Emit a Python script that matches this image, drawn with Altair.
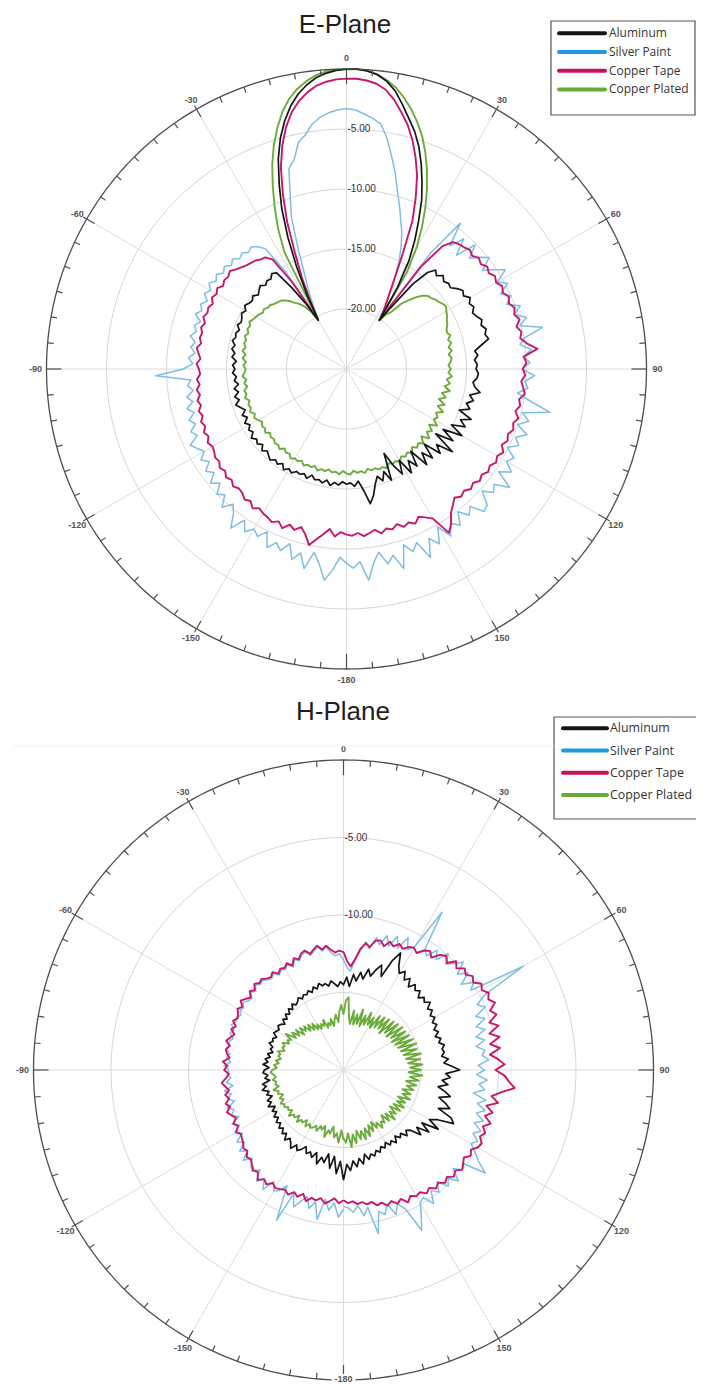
import pandas as pd
import altair as alt

# ---------------- data (2 degree steps, -180 .. 180) ----------------
ANGLES = list(range(-180, 181, 2))
SERIES = ["Aluminum", "Silver Paint", "Copper Tape", "Copper Plated"]
LINE_COLORS = ["#151515", "#7dbde6", "#c8176a", "#6cab3c"]
LEGEND_COLORS = ["#151515", "#1a9be0", "#c8105a", "#69aa38"]
DRAW_ORDER = ["Silver Paint", "Copper Tape", "Copper Plated", "Aluminum"]
STROKES = {"Aluminum": 1.7, "Silver Paint": 1.5, "Copper Tape": 1.9, "Copper Plated": 1.9}

E_ALUMINUM = [
    -15.4, -15.6, -15.3, -15.5, -15.2, -15.6, -15.3, -15.5, -15.4, -15.7, -15.3, -15.6, -15.4, -15.5, -15.2,
    -15.4, -15.1, -15.5, -15.2, -15.4, -15.1, -15.3, -15.5, -15.2, -15.6, -15.3, -15.5, -15.2, -15.6, -15.4,
    -15.7, -15.4, -15.8, -15.5, -15.9, -15.6, -15.3, -15.7, -15.4, -15.8, -15.5, -15.9, -15.6, -15.8, -15.5,
    -15.7, -15.5, -15.8, -15.4, -15.6, -15.3, -15.5, -15.2, -15.4, -15.3, -15.5, -15.2, -15.4, -15.3, -15.1,
    -15.3, -15.0, -15.2, -15.3, -15.1, -15.4, -15.2, -15.0, -15.3, -15.1, -15.2, -14.9, -15.1, -16.8, -18.5,
    -20.3, -18.0, -15.5, -13.0, -10.6, -8.6, -6.6, -5.0, -3.7, -2.6, -1.75, -1.1, -0.6, -0.3, -0.1,
    -0.02, 0.0, -0.1, -0.35, -0.8, -1.5, -2.5, -3.5, -4.4, -5.5, -6.8, -8.2, -9.6, -11.3, -12.9,
    -14.6, -17.0, -20.1, -18.5, -16.0, -14.5, -13.9, -14.2, -13.8, -14.1, -13.9, -14.0, -13.6, -13.3, -13.5,
    -13.1, -13.4, -13.2, -13.5, -13.3, -13.0, -13.2, -12.9, -13.1, -12.9, -13.6, -14.2, -14.0, -14.3, -14.1,
    -14.2, -14.0, -14.1, -14.4, -14.2, -13.7, -14.5, -14.1, -14.6, -14.2, -15.0, -13.8, -14.6, -14.0, -15.1,
    -13.9, -15.5, -14.3, -15.8, -13.8, -15.2, -14.5, -16.0, -14.7, -15.6, -14.6, -16.3, -15.0, -15.8, -14.8,
    -16.2, -15.1, -16.0, -17.3, -15.0, -15.9, -15.2, -15.7, -15.1, -14.2, -13.6, -14.8, -15.6, -15.2, -15.5,
    -15.4,
]
E_SILVER = [
    -8.8, -9.3, -8.2, -7.3, -8.6, -9.5, -8.0, -9.2, -8.5, -9.7, -8.9, -9.4, -8.7, -9.9, -9.2,
    -9.6, -9.0, -9.8, -8.6, -9.7, -10.3, -9.5, -10.4, -10.0, -10.8, -10.2, -11.0, -10.5, -11.2, -10.7,
    -11.3, -10.9, -10.5, -11.4, -11.0, -11.6, -11.2, -11.8, -11.3, -11.9, -11.5, -12.1, -11.7, -12.0, -9.1,
    -11.4, -12.2, -11.8, -12.3, -11.9, -12.2, -11.7, -12.1, -11.8, -12.2, -11.6, -12.0, -11.7, -12.1, -11.6,
    -11.9, -11.5, -11.9, -11.6, -12.0, -11.7, -12.1, -11.8, -12.2, -12.0, -12.3, -12.1, -12.4, -12.9, -15.5,
    -20.3, -19.2, -17.8, -16.5, -14.3, -11.6, -9.8, -7.6, -7.0, -5.7, -5.2, -4.4, -3.9, -3.6, -3.4,
    -3.3, -3.4, -3.7, -4.0, -4.4, -5.5, -6.9, -8.2, -9.6, -10.7, -11.8, -12.7, -13.8, -15.0, -16.5,
    -17.8, -19.0, -20.1, -13.0, -9.6, -11.6, -10.4, -11.8, -10.1, -11.2, -10.5, -9.9, -11.0, -10.2, -9.4,
    -10.5, -9.8, -10.7, -10.0, -10.6, -9.6, -10.3, -9.4, -10.1, -8.3, -9.9, -10.4, -9.5, -10.2, -9.7,
    -10.4, -9.3, -10.1, -9.8, -10.6, -9.4, -7.7, -9.9, -9.2, -10.0, -9.0, -9.8, -9.3, -10.1, -9.2,
    -9.6, -8.8, -9.7, -8.2, -9.4, -9.0, -9.8, -8.7, -8.5, -9.6, -9.1, -9.9, -8.9, -9.5, -8.6,
    -9.8, -8.5, -9.3, -7.8, -9.4, -8.8, -9.6, -7.7, -9.0, -8.4, -9.5, -8.7, -7.3, -8.9, -8.4,
    -8.8,
]
E_TAPE = [
    -11.2, -11.4, -11.0, -11.6, -11.1, -10.6, -10.0, -10.8, -11.3, -10.9, -11.2, -10.7, -11.1, -10.8, -11.0,
    -11.1, -11.3, -11.0, -11.4, -11.2, -11.5, -11.6, -11.4, -11.7, -11.5, -11.8, -11.6, -11.9, -11.8, -12.0,
    -12.1, -11.9, -12.2, -12.0, -12.3, -12.1, -12.4, -12.2, -12.5, -12.3, -12.6, -12.4, -12.7, -12.5, -12.8,
    -12.7, -12.5, -12.8, -12.6, -12.4, -12.7, -12.5, -12.6, -12.4, -12.6, -12.3, -12.5, -12.4, -12.6, -12.3,
    -12.5, -12.3, -12.6, -12.4, -12.5, -12.3, -12.6, -12.8, -13.0, -13.1, -13.2, -13.4, -13.5, -14.0, -16.5,
    -20.3, -18.5, -16.5, -14.5, -11.8, -9.5, -7.3, -5.6, -4.2, -3.1, -2.3, -1.7, -1.25, -1.0, -0.85,
    -0.8, -0.8, -0.9, -1.1, -1.5, -2.2, -3.1, -4.0, -5.1, -6.4, -7.8, -9.6, -11.5, -14.3, -16.5,
    -18.0, -19.0, -20.1, -14.5, -12.0, -11.2, -11.0, -10.9, -10.7, -10.9, -10.6, -10.8, -10.5, -10.7, -10.4,
    -10.6, -10.3, -10.5, -10.2, -10.4, -10.1, -10.3, -10.0, -10.4, -10.1, -10.3, -9.8, -9.0, -10.2, -10.0,
    -10.3, -10.1, -10.4, -10.2, -10.0, -10.4, -10.2, -10.5, -10.1, -10.4, -10.2, -10.5, -10.3, -10.6, -10.2,
    -10.5, -10.3, -10.6, -10.4, -10.7, -10.5, -10.8, -10.6, -10.9, -10.7, -11.0, -10.6, -10.2, -9.4, -8.9,
    -10.6, -11.0, -11.3, -10.9, -11.2, -11.0, -11.4, -11.1, -11.3, -11.0, -11.4, -11.2, -11.0, -11.3, -11.1,
    -11.2,
]
E_PLATED = [
    -16.3, -16.5, -16.2, -16.4, -16.3, -16.5, -16.3, -16.4, -16.2, -16.5, -16.3, -16.4, -16.2, -16.5, -16.3,
    -16.4, -16.2, -16.5, -16.4, -16.6, -16.3, -16.5, -16.4, -16.6, -16.5, -16.7, -16.4, -16.6, -16.5, -16.7,
    -16.5, -16.3, -16.5, -16.2, -16.4, -16.3, -16.5, -16.2, -16.4, -16.3, -16.6, -16.4, -16.6, -16.3, -16.5,
    -16.6, -16.4, -16.6, -16.3, -16.5, -16.2, -16.4, -16.2, -16.3, -16.1, -16.3, -16.1, -16.2, -16.0, -16.2,
    -16.3, -16.4, -16.6, -16.5, -16.7, -16.7, -16.9, -17.0, -17.1, -17.3, -17.6, -18.0, -18.3, -18.7, -19.3,
    -20.3, -14.0, -12.0, -10.3, -8.6, -6.9, -5.4, -4.1, -2.9, -2.0, -1.3, -0.8, -0.4, -0.15, -0.05,
    0.0, 0.0, -0.1, -0.3, -0.7, -1.2, -1.9, -2.7, -3.6, -4.6, -5.8, -7.1, -8.5, -10.0, -11.6,
    -13.3, -15.5, -20.1, -19.4, -19.0, -17.9, -17.3, -16.7, -16.2, -15.9, -15.8, -15.6, -15.5, -15.3, -15.2,
    -15.4, -15.5, -15.7, -15.8, -16.0, -16.1, -15.9, -16.2, -16.0, -16.3, -16.1, -16.4, -16.2, -16.3, -16.5,
    -16.3, -16.5, -16.2, -16.6, -16.3, -16.7, -16.2, -16.8, -16.4, -16.9, -16.3, -16.8, -16.2, -16.7, -16.4,
    -16.6, -16.1, -16.7, -16.2, -16.5, -16.0, -16.6, -16.1, -16.4, -16.2, -16.5, -16.1, -16.4, -16.2, -16.4,
    -16.1, -16.3, -16.2, -16.4, -16.1, -16.3, -16.2, -16.4, -16.3, -16.5, -16.2, -16.4, -16.3, -16.5, -16.2,
    -16.3,
]

H_ALUMINUM = [
    -12.9, -14.1, -13.3, -14.4, -13.6, -14.5, -13.9, -14.2, -13.7, -14.4, -14.0, -14.3, -14.1, -14.5, -14.2,
    -14.0, -14.3, -13.9, -14.2, -14.4, -14.1, -14.5, -14.3, -14.6, -14.4, -14.7, -14.5, -14.8, -14.6, -14.9,
    -14.7, -15.0, -14.6, -14.9, -14.7, -15.1, -14.8, -15.0, -14.6, -14.9, -14.7, -15.2, -14.9, -15.1, -14.8,
    -14.9, -15.2, -14.8, -15.1, -14.9, -15.2, -15.0, -15.3, -15.1, -15.2, -14.9, -15.1, -15.0, -15.2, -14.9,
    -15.0, -15.1, -14.9, -15.0, -15.2, -14.9, -15.1, -14.8, -15.0, -14.7, -14.9, -14.6, -14.8, -14.7, -14.5,
    -14.7, -14.5, -14.6, -14.4, -14.6, -14.3, -14.5, -14.2, -14.4, -14.3, -14.5, -14.2, -14.4, -14.6, -14.3,
    -14.5, -14.0, -14.6, -13.8, -14.2, -13.6, -14.0, -13.3, -13.7, -13.2, -12.8, -13.5, -12.3, -11.6, -12.4,
    -12.8, -12.5, -13.0, -12.7, -13.2, -12.8, -13.1, -12.9, -13.3, -13.0, -13.2, -12.9, -13.3, -13.1, -13.4,
    -13.2, -13.5, -13.3, -13.6, -13.4, -13.7, -13.4, -13.6, -13.3, -13.5, -13.4, -13.6, -13.2, -13.5, -13.0,
    -12.5, -13.4, -13.1, -13.6, -13.2, -13.8, -13.3, -12.9, -13.6, -13.1, -12.7, -13.4, -12.4, -12.1, -13.2,
    -13.6, -12.8, -13.9, -13.2, -14.0, -13.5, -14.2, -14.4, -14.1, -14.5, -14.3, -14.6, -14.2, -14.5, -14.3,
    -14.6, -14.3, -14.5, -14.2, -14.4, -14.1, -14.3, -14.0, -14.4, -13.8, -14.2, -13.7, -14.1, -13.5, -13.9,
    -12.9,
]
H_SILVER = [
    -11.0, -10.5, -11.4, -10.9, -11.6, -10.2, -11.3, -10.8, -11.5, -11.1, -10.6, -11.4, -9.4, -11.7, -11.2,
    -11.0, -11.5, -10.7, -11.3, -10.9, -11.6, -11.2, -11.4, -11.8, -11.3, -11.9, -11.5, -12.1, -11.7, -12.3,
    -11.9, -12.4, -12.0, -12.6, -12.2, -12.5, -12.1, -12.7, -12.3, -12.6, -12.2, -12.8, -12.4, -12.7, -12.5,
    -12.6, -12.3, -12.7, -12.4, -12.6, -12.3, -12.5, -12.4, -12.6, -12.3, -12.5, -12.2, -12.4, -12.3, -12.5,
    -12.3, -12.4, -12.2, -12.4, -12.5, -12.2, -12.4, -12.1, -12.3, -12.2, -12.4, -12.5, -12.3, -12.6, -12.4,
    -12.5, -12.3, -12.6, -12.2, -12.4, -12.1, -12.0, -12.3, -12.1, -11.9, -12.2, -12.0, -12.4, -12.6, -12.5,
    -12.9, -13.4, -13.6, -12.9, -12.2, -11.6, -12.0, -11.2, -11.6, -10.9, -11.5, -10.7, -11.4, -10.5, -11.2,
    -10.8, -8.0, -10.6, -10.9, -10.2, -10.7, -9.9, -10.5, -10.1, -9.6, -10.4, -9.8, -10.6, -9.9, -10.3,
    -6.6, -9.7, -10.4, -10.0, -10.8, -10.3, -11.0, -10.5, -11.2, -10.7, -11.3, -10.8, -11.0, -10.6, -11.3,
    -10.9, -11.4, -10.7, -11.2, -10.8, -11.5, -10.6, -11.1, -10.5, -11.0, -10.4, -10.9, -10.3, -10.7, -10.2,
    -10.5, -10.0, -9.5, -8.7, -10.2, -10.0, -10.5, -9.7, -10.3, -9.9, -10.6, -10.0, -10.4, -9.6, -10.3,
    -10.1, -9.3, -8.5, -10.2, -10.7, -10.1, -10.9, -10.3, -10.6, -9.2, -11.0, -10.5, -11.2, -10.8, -11.1,
    -11.2,
]
H_TAPE = [
    -11.6, -11.4, -11.7, -11.5, -11.3, -11.6, -11.4, -11.5, -11.2, -11.6, -11.3, -11.5, -11.2, -11.4, -11.3,
    -11.2, -11.4, -11.1, -11.3, -11.0, -11.4, -11.3, -11.5, -11.7, -11.6, -11.9, -11.8, -12.0, -12.1, -12.2,
    -12.0, -12.3, -12.1, -12.4, -12.2, -12.0, -12.3, -12.1, -12.4, -12.2, -12.5, -12.3, -12.1, -12.4, -12.6,
    -12.3, -12.5, -12.2, -12.6, -12.4, -12.3, -12.5, -12.2, -12.4, -12.6, -12.3, -12.5, -12.2, -12.4, -12.3,
    -12.1, -12.3, -12.0, -12.2, -12.4, -12.1, -12.3, -12.0, -12.2, -12.1, -12.3, -12.4, -12.2, -12.5, -12.3,
    -12.4, -12.2, -12.5, -12.1, -12.3, -12.0, -11.9, -12.2, -12.0, -11.8, -12.1, -11.9, -12.2, -12.4, -12.3,
    -12.4, -13.0, -13.3, -12.8, -12.1, -11.7, -11.9, -11.4, -11.3, -11.6, -11.2, -11.4, -11.1, -11.3, -11.0,
    -10.9, -11.1, -10.7, -10.5, -10.8, -10.3, -10.1, -10.4, -9.9, -10.2, -9.8, -10.0, -9.7, -9.9, -9.5,
    -9.7, -9.4, -9.6, -9.3, -9.8, -9.5, -10.1, -9.6, -10.3, -9.7, -10.4, -9.8, -10.5, -10.0, -9.6,
    -10.2, -9.6, -9.3, -8.9, -9.7, -10.3, -9.8, -10.5, -10.0, -10.4, -9.9, -10.3, -10.0, -10.2, -9.9,
    -10.0, -10.3, -10.1, -10.4, -10.2, -10.0, -10.3, -10.1, -10.4, -10.2, -10.5, -10.3, -10.6, -10.4, -10.7,
    -10.6, -10.8, -10.5, -10.9, -10.7, -11.0, -10.8, -11.1, -11.0, -11.3, -11.2, -11.4, -11.3, -11.5, -11.4,
    -11.6,
]
H_PLATED = [
    -15.5, -16.1, -15.3, -15.9, -15.6, -16.3, -15.8, -16.0, -15.5, -16.2, -15.9, -16.1, -15.7, -16.0, -15.8,
    -15.7, -15.9, -15.6, -16.0, -15.7, -15.8, -15.5, -15.9, -15.6, -15.7, -15.4, -15.8, -15.6, -15.7, -15.5,
    -15.6, -15.4, -15.7, -15.5, -15.8, -15.5, -15.6, -15.3, -15.7, -15.5, -15.6, -15.4, -15.6, -15.5, -15.3,
    -15.4, -15.7, -15.5, -15.8, -15.6, -15.9, -15.7, -15.8, -15.6, -16.0, -15.8, -15.9, -15.7, -16.1, -15.9,
    -16.1, -15.6, -16.3, -15.9, -16.4, -16.0, -16.6, -16.1, -16.5, -16.2, -16.7, -16.3, -16.8, -16.4, -16.9,
    -16.6, -17.0, -16.7, -16.9, -16.5, -17.1, -16.8, -17.0, -16.6, -17.1, -16.7, -16.4, -16.9, -16.2, -15.8,
    -16.4, -15.5, -15.3, -16.6, -17.0, -16.1, -17.0, -16.3, -16.9, -15.9, -17.0, -16.2, -16.8, -15.9, -16.7,
    -16.1, -16.8, -15.8, -16.6, -15.7, -16.5, -15.6, -16.7, -15.5, -16.4, -15.4, -16.5, -15.3, -16.3, -15.3,
    -16.4, -15.2, -16.3, -15.1, -16.2, -15.0, -16.1, -15.1, -16.0, -14.9, -15.9, -15.0, -15.8, -14.9, -15.7,
    -15.0, -15.8, -14.9, -15.7, -15.1, -15.9, -15.2, -15.8, -15.3, -16.0, -15.4, -15.9, -15.3, -16.1, -15.5,
    -16.0, -15.4, -16.1, -15.5, -16.2, -15.6, -16.0, -15.4, -16.1, -15.6, -16.2, -15.7, -15.9, -15.5, -16.0,
    -15.7, -16.2, -15.6, -16.1, -15.4, -16.0, -15.3, -15.9, -15.4, -16.0, -15.2, -15.8, -15.0, -15.9, -15.3,
    -15.6,
]

E_RINGS = [-20, -15, -10, -5]
E_RING_LABELS = [-20, -15, -10, -5]
H_RINGS = [-15, -10, -5]
H_RING_LABELS = [-10, -5]
SPOKES = list(range(0, 360, 30))
ANGLE_TEXT = ["0", "30", "60", "90", "120", "150", "-180", "-150", "-120", "-90", "-60", "-30"]

# ---------------- layout (chart coords = page coords - 8) ----------------
W, H = 688, 1376
XS = alt.Scale(domain=[0, W], range=[0, W], nice=False, zero=False)
YS = alt.Scale(domain=[0, H], range=[0, H], nice=False, zero=False)
FONT = "Liberation Sans"
LABEL_YMAX = H - 5

PLANES = [
    dict(title="E-Plane", cx=338.5, cy=361.0, R=300.0, lo=-25.0, rings=E_RINGS, labels=E_RING_LABELS,
         data=[E_ALUMINUM, E_SILVER, E_TAPE, E_PLATED],
         tx=337, ty=17, box=(543, 13, 687, 107), ly0=25.3, ldy=18.7, lx0=551, lx1=597, ltx=601, lfs=12),
    dict(title="H-Plane", cx=335.5, cy=1062.0, R=310.0, lo=-20.0, rings=H_RINGS, labels=H_RING_LABELS,
         data=[H_ALUMINUM, H_SILVER, H_TAPE, H_PLATED],
         tx=335, ty=704, box=(546, 709, 700, 811), ly0=720.3, ldy=22.2, lx0=555, lx1=599, ltx=602, lfs=12.4),
]


def X(f):
    return alt.X(f, type="quantitative", scale=XS, axis=None)


def Y(f):
    return alt.Y(f, type="quantitative", scale=YS, axis=None)


def plane_layers(p):
    cx, cy, R, lo = p["cx"], p["cy"], p["R"], p["lo"]

    def rad(e):
        return f"{R}*(({e}) - ({lo}))/({-lo})"

    def px(r, a):
        return f"{cx} + ({r})*sin(({a})*PI/180)"

    def py(r, a):
        return f"{cy} - ({r})*cos(({a})*PI/180)"

    layers = []
    ring_df = pd.DataFrame([{"lvl": l, "a": a} for l in p["rings"] for a in range(0, 361, 2)])
    layers.append(
        alt.Chart(ring_df).transform_calculate(r=rad("datum.lvl"))
        .transform_calculate(px=px("datum.r", "datum.a"), py=py("datum.r", "datum.a"))
        .mark_line(color="#d6d6d6", strokeWidth=1)
        .encode(x=X("px"), y=Y("py"), detail="lvl:N", order="a:Q")
    )
    sp_df = pd.DataFrame({"a": SPOKES})
    layers.append(
        alt.Chart(sp_df).transform_calculate(
            x1=f"{cx}", y1=f"{cy}", x2=px(R, "datum.a"), y2=py(R, "datum.a"))
        .mark_rule(color="#dcdcdc", strokeWidth=1)
        .encode(x=X("x1"), y=Y("y1"), x2="x2:Q", y2="y2:Q")
    )
    rl_df = pd.DataFrame({"lvl": p["labels"], "txt": [f"{l:.2f}" for l in p["labels"]]})
    layers.append(
        alt.Chart(rl_df).transform_calculate(r=rad("datum.lvl"))
        .transform_calculate(px=f"{cx} + 1", py=f"{cy} - datum.r")
        .mark_text(align="left", baseline="middle", font=FONT, fontSize=10, color="#333333")
        .encode(x=X("px"), y=Y("py"), text="txt:N")
    )
    for name in DRAW_ORDER:
        k = SERIES.index(name)
        vals = p["data"][k]
        df = pd.DataFrame({"angle": ANGLES, "db": vals, "i": range(len(ANGLES))})
        layers.append(
            alt.Chart(df).transform_calculate(r=rad("datum.db"))
            .transform_calculate(px=px("datum.r", "datum.angle"), py=py("datum.r", "datum.angle"))
            .mark_line(color=LINE_COLORS[k], strokeWidth=STROKES[name], strokeJoin="round")
            .encode(x=X("px"), y=Y("py"), order="i:Q")
        )
    oc_df = pd.DataFrame({"a": list(range(0, 361, 1))})
    layers.append(
        alt.Chart(oc_df).transform_calculate(px=px(R, "datum.a"), py=py(R, "datum.a"))
        .mark_line(color="#4d4d4d", strokeWidth=1.3)
        .encode(x=X("px"), y=Y("py"), order="a:Q")
    )
    tk_df = pd.DataFrame({"a": list(range(0, 360, 5))})
    layers.append(
        alt.Chart(tk_df).transform_calculate(
            rin=f"datum.a % 90 == 0 ? {R - 15} : (datum.a % 30 == 0 ? {R - 9} : {R - 6})",
            rout=f"(datum.a % 30 == 0 && datum.a % 90 != 0) ? {R + 4} : {R}")
        .transform_calculate(x1=px("datum.rin", "datum.a"), y1=py("datum.rin", "datum.a"),
                             x2=px("datum.rout", "datum.a"), y2=py("datum.rout", "datum.a"))
        .mark_rule(color="#4d4d4d", strokeWidth=1.2)
        .encode(x=X("x1"), y=Y("y1"), x2="x2:Q", y2="y2:Q")
    )
    al_df = pd.DataFrame({"a": SPOKES, "txt": ANGLE_TEXT})
    al = alt.Chart(al_df).transform_calculate(
        px=px(R + 11, "datum.a"), pyraw=py(R + 11, "datum.a")
    ).transform_calculate(
        py=f"min({LABEL_YMAX}, datum.pyraw)",
        mx1="datum.px - 12", mx2="datum.px + 12", my1="datum.py - 5", my2=f"{H}",
    )
    # white backing for a label that had to be pulled up onto the frame edge
    layers.append(
        al.transform_filter(f"datum.pyraw > {LABEL_YMAX}")
        .mark_rect(fill="white")
        .encode(x=X("mx1"), x2="mx2:Q", y=Y("my1"), y2="my2:Q")
    )
    layers.append(
        al.mark_text(align="center", baseline="middle", font=FONT, fontSize=9, fontWeight="bold", color="#555555")
        .encode(x=X("px"), y=Y("py"), text="txt:N")
    )
    layers.append(
        alt.Chart(pd.DataFrame({"t": [p["title"]]}))
        .mark_text(align="center", baseline="middle", font=FONT, fontSize=26, color="#1e1e1e")
        .encode(x=alt.value(p["tx"]), y=alt.value(p["ty"]), text="t:N")
    )
    x0, y0, x1, y1 = p["box"]
    layers.append(
        alt.Chart(pd.DataFrame({"k": [0]}))
        .mark_rect(fill="white", stroke="#555555", strokeWidth=1.2)
        .encode(x=alt.value(x0), x2=alt.value(x1), y=alt.value(y0), y2=alt.value(y1))
    )
    lg_df = pd.DataFrame({"name": SERIES, "k": range(4)})
    layers.append(
        alt.Chart(lg_df).transform_calculate(
            ly=f"{p['ly0']} + datum.k*{p['ldy']}", lxa=f"{p['lx0']}", lxb=f"{p['lx1']}")
        .mark_rule(strokeWidth=4, strokeCap="round")
        .encode(x=X("lxa"), x2="lxb:Q", y=Y("ly"),
                color=alt.Color("name:N", scale=alt.Scale(domain=SERIES, range=LEGEND_COLORS), legend=None))
    )
    layers.append(
        alt.Chart(lg_df).transform_calculate(
            ly=f"{p['ly0']} + datum.k*{p['ldy']}", lx=f"{p['ltx']}")
        .mark_text(align="left", baseline="middle", font="Open Sans", fontSize=p["lfs"], color="#333333")
        .encode(x=X("lx"), y=Y("ly"), text="name:N")
    )
    return layers


layers = []
for p in PLANES:
    layers += plane_layers(p)

layers.append(
    alt.Chart(pd.DataFrame({"k": [0]})).mark_rule(color="#efefef", strokeWidth=1)
    .encode(x=alt.value(5), x2=alt.value(546), y=alt.value(738))
)

chart = alt.layer(*layers).properties(
    width=W, height=H, padding=0, autosize=alt.AutoSizeParams(type="none")
).configure_view(stroke=None)

chart.save("out.html", embed_options={"renderer": "svg", "actions": False})
